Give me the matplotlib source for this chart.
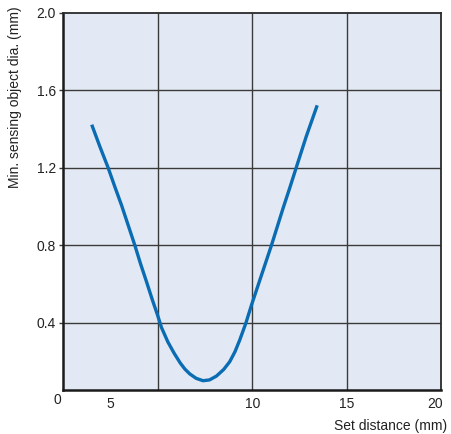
import matplotlib
matplotlib.use("Agg")
import matplotlib.pyplot as plt

plt.rcParams['font.family'] = ['Liberation Sans', 'DejaVu Sans']

# curve (set distance mm, min. object dia. mm)
distance = [1.52, 1.95, 2.39, 2.75, 3.10, 3.45, 3.80, 4.10, 4.42, 4.72,
            5.0, 5.21, 5.55, 5.88, 6.2, 6.45, 6.71, 7.05, 7.41, 7.75,
            8.12, 8.5, 8.82, 9.1, 9.35, 9.67, 9.97, 10.5, 11.03, 11.64,
            12.0, 12.35, 12.87, 13.45]
diameter = [1.423, 1.31, 1.2, 1.1, 1.006, 0.903, 0.8, 0.705, 0.611, 0.52,
            0.44, 0.375, 0.3, 0.242, 0.192, 0.16, 0.135, 0.112, 0.10, 0.104,
            0.124, 0.158, 0.198, 0.25, 0.31, 0.396, 0.49, 0.645, 0.8, 0.99,
            1.097, 1.204, 1.362, 1.523]

y_ticks = [0.4, 0.8, 1.2, 1.6, 2.0]
x_grid = [5, 10, 15]
x_label_pos = [2.5, 10.05, 15, 19.7]
x_labels = ["5", "10", "15", "20"]

fig = plt.figure(figsize=(4.51, 4.34), dpi=100)
ax = fig.add_axes([63 / 451, 44 / 434, 378 / 451, 377 / 434])
ax.set_facecolor("#e2e9f4")

ax.set_xlim(0, 20)
ax.set_ylim(0.052, 2.0)

for xv in x_grid:
    ax.axvline(xv, color="#3a3a3a", linewidth=1.0, zorder=1)
for yv in y_ticks[:-1]:
    ax.axhline(yv, color="#3a3a3a", linewidth=1.0, zorder=1)

ax.plot(distance, diameter, color="#0a6cb2", linewidth=2.4,
        solid_capstyle="butt", solid_joinstyle="round", zorder=3)

ax.set_yticks(y_ticks)
ax.set_yticklabels([f"{v:.1f}" for v in y_ticks], fontsize=10, color="#222222")
ax.tick_params(axis="y", length=3, width=1, color="#3a3a3a", pad=2)

ax.set_xticks(x_label_pos)
ax.set_xticklabels(x_labels, fontsize=10, color="#222222")
ax.tick_params(axis="x", length=0, pad=5)

for side in ["left", "bottom"]:
    ax.spines[side].set_linewidth(1.8)
    ax.spines[side].set_color("#1a1a1a")
for side in ["top", "right"]:
    ax.spines[side].set_linewidth(1.3)
    ax.spines[side].set_color("#2a2a2a")

fig.text(57 / 451, 1 - 400 / 434, "0", fontsize=10, color="#222222",
         ha="center", va="center")
fig.text(15 / 451, 1 - 6 / 434, "Min. sensing object dia. (mm)", fontsize=10,
         color="#222222", rotation=90, ha="center", va="top")
fig.text(447 / 451, 1 / 434, "Set distance (mm)", fontsize=10,
         color="#222222", ha="right", va="bottom")

fig.savefig("out.png", dpi=100)
